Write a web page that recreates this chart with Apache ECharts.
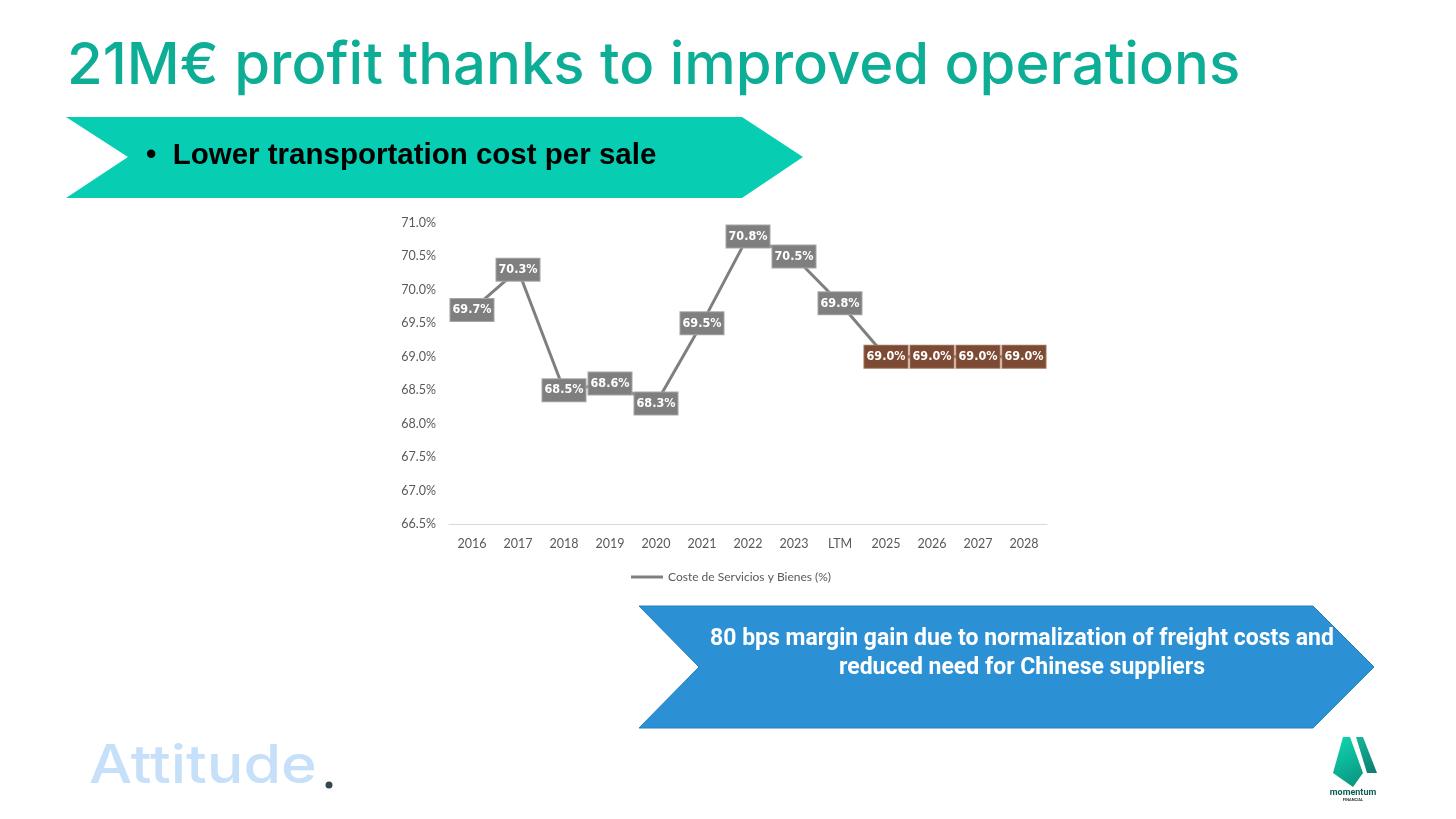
<!DOCTYPE html>
<html>
<head>
<meta charset="utf-8">
<script src="https://cdn.jsdelivr.net/npm/echarts@6/dist/echarts.min.js"></script>
<style>
  html, body { margin: 0; padding: 0; background: #fff; }
  #main { width: 1456px; height: 819px; }
</style>
</head>
<body>
<div id="main"></div>
<script>
// data
var categories = ['2016', '2017', '2018', '2019', '2020', '2021', '2022', '2023', 'LTM', '2025', '2026', '2027', '2028'];
var costValues = [69.7, 70.3, 68.5, 68.6, 68.3, 69.5, 70.8, 70.5, 69.8, 69.0, 69.0, 69.0, 69.0];
var forecastYears = ['2025', '2026', '2027', '2028'];
var yTicks = { min: 66.5, max: 71.0, interval: 0.5 };
var seriesName = 'Coste de Servicios y Bienes (%)';

var chart = echarts.init(document.getElementById('main'));

var seriesData = costValues.map(function (v, i) {
    var item = { value: v };
    if (forecastYears.indexOf(categories[i]) >= 0) {
        item.label = { backgroundColor: '#7d4a33', borderColor: '#a0705a' };
    }
    return item;
});

var option = {
    backgroundColor: '#ffffff',
    animation: false,
    textStyle: { fontFamily: 'Lato' },
    grid: { left: 449, right: 409, top: 223, bottom: 295 },
    legend: {
        left: 626,
        top: 566,
        icon: 'rect',
        itemWidth: 32,
        itemHeight: 3,
        itemGap: 4,
        textStyle: { color: '#595959', fontSize: 12, fontFamily: 'Lato' },
        data: [seriesName]
    },
    xAxis: {
        type: 'category',
        data: categories,
        boundaryGap: true,
        axisLine: { lineStyle: { color: '#d9d9d9', width: 1 } },
        axisTick: { show: false },
        axisLabel: { color: '#595959', fontSize: 12.5, margin: 13, fontFamily: 'Lato' }
    },
    yAxis: {
        type: 'value',
        min: yTicks.min,
        max: yTicks.max,
        interval: yTicks.interval,
        axisLine: { show: false },
        axisTick: { show: false },
        splitLine: { show: false },
        axisLabel: {
            color: '#595959',
            fontSize: 12.5,
            margin: 13,
            fontFamily: 'Lato',
            formatter: function (v) { return v.toFixed(1) + '%'; }
        }
    },
    series: [{
        name: seriesName,
        type: 'line',
        data: seriesData,
        symbol: 'circle',
        symbolSize: 1,
        itemStyle: { color: '#7f7f7f' },
        lineStyle: { color: '#7f7f7f', width: 3 },
        label: {
            show: true,
            position: 'inside',
            color: '#ffffff',
            fontWeight: 'bold',
            fontSize: 12.5,
            fontFamily: 'DejaVu Sans Condensed',
            backgroundColor: '#7f7f7f',
            borderColor: '#a6a6a6',
            borderWidth: 1,
            padding: [5, 2, 4, 2],
            formatter: function (p) { return p.value.toFixed(1) + '%'; }
        }
    }],
    graphic: [
        // title
        {
            type: 'text', left: 67, top: 38,
            style: { text: '21M€ profit thanks to improved operations', fill: '#0eae96', font: '500 58px Inter' }
        },
        // teal arrow banner
        {
            type: 'polygon',
            shape: { points: [[66, 117], [742, 117], [803, 157], [742, 198], [66, 198], [128, 157]] },
            style: { fill: '#07cdb3' }
        },
        {
            type: 'text', left: 146, top: 141,
            style: { text: '•  Lower transportation cost per sale', fill: '#000000', font: 'bold 29.5px "Liberation Sans"' }
        },
        // blue arrow banner
        {
            type: 'polygon',
            shape: { points: [[639, 606], [1313, 606], [1374, 667], [1313, 728], [639, 728], [699, 667]] },
            style: { fill: '#2b90d4', stroke: '#2580c0', lineWidth: 1 }
        },
        {
            type: 'text', x: 1022, y: 654,
            style: {
                text: '80 bps margin gain due to normalization of freight costs and\nreduced need for Chinese suppliers',
                fill: '#ffffff', font: 'bold 23px Roboto', align: 'center', verticalAlign: 'middle', lineHeight: 29
            }
        },
        // Attitude logo
        {
            type: 'text', x: 89, y: 741, scaleX: 1.15,
            style: { text: 'Attitude', fill: '#c6e0f9', font: '500 53px Inter' }
        },
        {
            type: 'circle', shape: { cx: 329, cy: 785, r: 3.5 },
            style: { fill: '#37474f' }
        },
        // momentum logo
        {
            type: 'polygon',
            shape: { points: [[1333, 773], [1343, 737], [1350, 737], [1363, 773], [1353, 787]] },
            style: {
                fill: new echarts.graphic.LinearGradient(0, 0, 1, 1, [
                    { offset: 0, color: '#0fd9b2' }, { offset: 1, color: '#0a8f7c' }
                ])
            }
        },
        {
            type: 'polygon',
            shape: { points: [[1356, 737], [1363, 737], [1377, 773], [1367, 773]] },
            style: {
                fill: new echarts.graphic.LinearGradient(0, 0, 1, 1, [
                    { offset: 0, color: '#16b899' }, { offset: 1, color: '#0d7b6e' }
                ])
            }
        },
        {
            type: 'text', x: 1353, y: 793,
            style: { text: 'momentum', fill: '#0b5e57', font: 'bold 9px Roboto', align: 'center', verticalAlign: 'middle' }
        },
        {
            type: 'text', x: 1353, y: 800,
            style: { text: 'FINANCIAL', fill: '#333333', font: 'bold 4px Roboto', align: 'center', verticalAlign: 'middle' }
        }
    ]
};

chart.setOption(option);
</script>
</body>
</html>
